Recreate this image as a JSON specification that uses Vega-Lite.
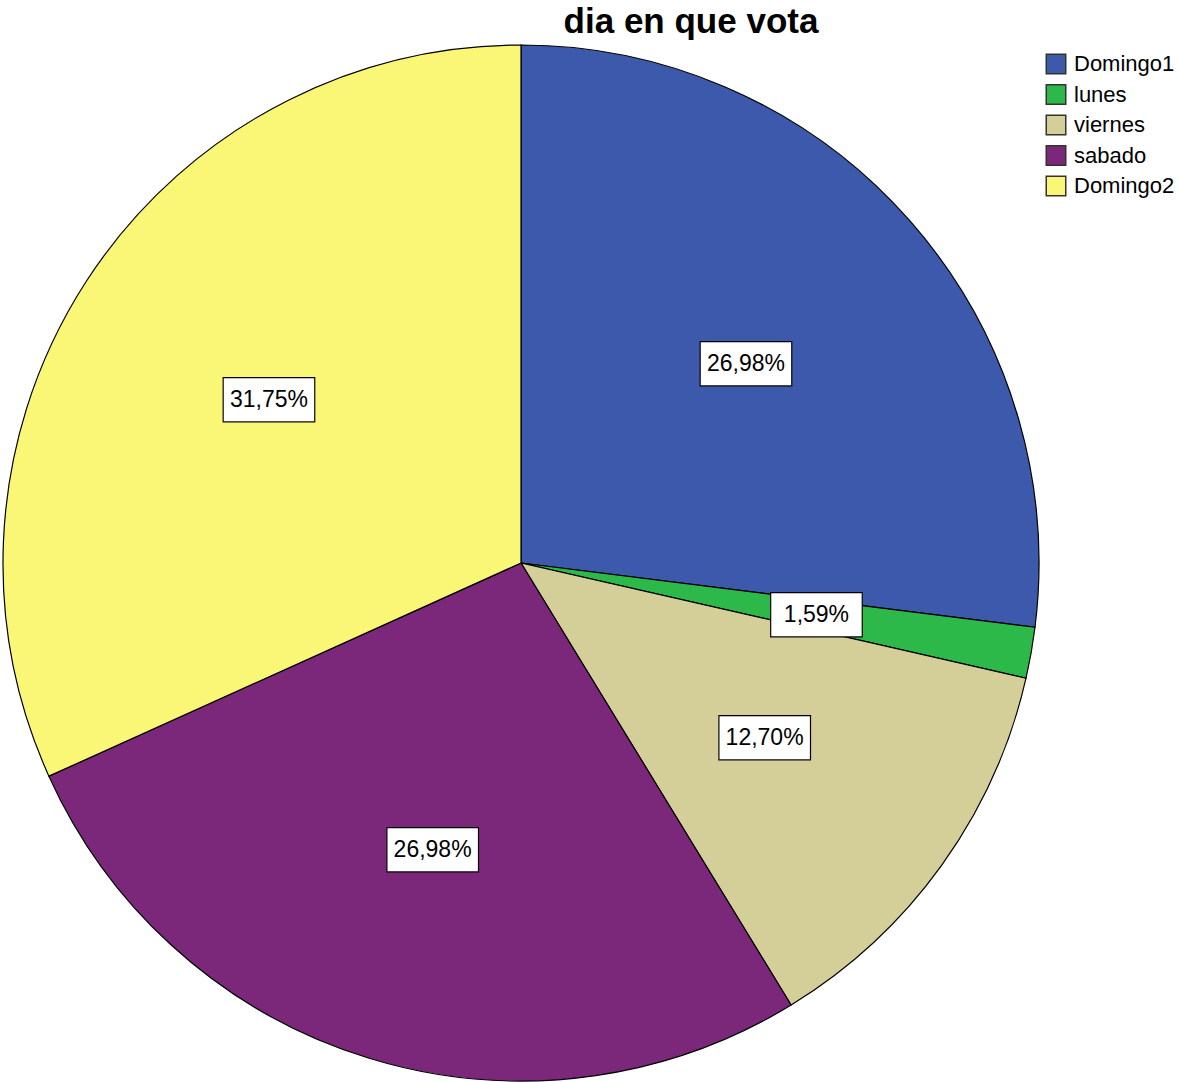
{
  "$schema": "https://vega.github.io/schema/vega-lite/v6.json",
  "width": 1038,
  "height": 1036,
  "padding": {"top": 4, "left": 0, "right": 0, "bottom": 0},
  "background": "white",
  "title": {"text": "dia en que vota", "fontSize": 35, "font": "Liberation Sans", "fontWeight": "bold", "anchor": "middle", "dx": 170, "offset": 3, "color": "black"},
  "data": {"values": [
    {"dia": "Domingo1", "order": 1, "pct": 26.98, "label": "26,98%"},
    {"dia": "lunes", "order": 2, "pct": 1.59, "label": "1,59%"},
    {"dia": "viernes", "order": 3, "pct": 12.70, "label": "12,70%"},
    {"dia": "sabado", "order": 4, "pct": 26.98, "label": "26,98%"},
    {"dia": "Domingo2", "order": 5, "pct": 31.75, "label": "31,75%"}
  ]},
  "encoding": {
    "theta": {"field": "pct", "type": "quantitative", "stack": true},
    "order": {"field": "order", "type": "quantitative"}
  },
  "layer": [
    {
      "mark": {"type": "arc", "stroke": "black", "strokeWidth": 1.2, "opacity": 1},
      "encoding": {
        "color": {
          "field": "dia", "type": "nominal",
          "scale": {"domain": ["Domingo1", "lunes", "viernes", "sabado", "Domingo2"], "range": ["#3d59ab", "#2db84a", "#d4ce99", "#7b287b", "#fbf776"]},
          "legend": {
            "title": null, "orient": "none", "legendX": 1043, "legendY": 8,
            "symbolType": "square", "symbolSize": 380, "symbolStrokeColor": "#333333", "symbolStrokeWidth": 1.5, "symbolOpacity": 1,
            "labelFont": "Liberation Sans", "labelFontSize": 22, "labelColor": "black", "labelOffset": 7, "rowPadding": 4.5
          }
        }
      }
    },
    {
      "mark": {"type": "text", "text": "\u25ac", "font": "DejaVu Sans", "fontSize": 120, "fill": "white", "stroke": "black", "strokeWidth": 1.2, "baseline": "middle", "align": "center", "dy": -5},
      "encoding": {"radius": {"value": 300}}
    },
    {
      "mark": {"type": "text", "font": "Liberation Sans", "fontSize": 23, "fill": "black", "baseline": "middle", "align": "center"},
      "encoding": {"radius": {"value": 300}, "text": {"field": "label", "type": "nominal"}}
    }
  ],
  "config": {"view": {"stroke": null}}
}
